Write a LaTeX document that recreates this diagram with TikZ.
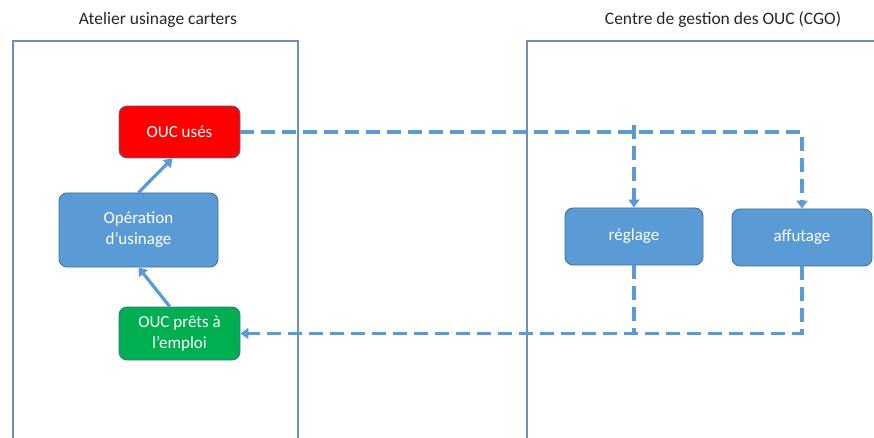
\documentclass[tikz,border=0pt]{standalone}
\usepackage{fontspec}
\setmainfont{Carlito}
\usetikzlibrary{arrows.meta}
\definecolor{flowblue}{HTML}{5B9BD5}
\definecolor{boxedge}{HTML}{41719C}
\definecolor{paneledge}{HTML}{6F8FB8}
\definecolor{usedred}{HTML}{FF0000}
\definecolor{readygreen}{HTML}{00B050}
\definecolor{titlegray}{HTML}{262626}
\begin{document}
\begin{tikzpicture}[x=1pt,y=-1pt,
  panel/.style={draw=paneledge,line width=1.1pt},
  paneltitle/.style={text=titlegray,font=\fontsize{17.5}{21}\selectfont},
  box/.style={draw=boxedge,line width=0.9pt,rounded corners=8pt,text=white,
    align=center,inner sep=0pt,font=\fontsize{17}{21}\selectfont},
  flow/.style={draw=flowblue,line width=3.2pt,
    -{Triangle[length=8pt,width=11pt]}},
  dashflow/.style={draw=flowblue,line width=3.2pt,dash pattern=on 14pt off 7pt},
  dashtip/.style={dashflow,-{Triangle[length=8pt,width=11pt]}}]
\useasboundingbox (0,0) rectangle (874,438);
\fill[white] (0,0) rectangle (874,438);

% the two workshop panels, running off the lower edge
\begin{scope}
  \clip (0,0) rectangle (874,438);
  \draw[panel] (13,41) rectangle (298,460);
  \draw[panel] (527,41) rectangle (890,460);
\end{scope}
\node[paneltitle] (t1) at (158,20) {Atelier usinage carters};
\node[paneltitle] (t2) at (723,20) {Centre de gestion des OUC (CGO)};

% process boxes
\node[box,fill=usedred,minimum width=121pt,minimum height=52pt] (u) at (179.5,132) {OUC usés};
\node[box,fill=flowblue,minimum width=159pt,minimum height=74pt] (op) at (138.5,230) {Opération\\d’usinage};
\node[box,fill=readygreen,minimum width=121pt,minimum height=53pt] (pret) at (179.5,333.5) {OUC prêts à\\l’emploi};
\node[box,fill=flowblue,minimum width=138pt,minimum height=57pt] (reg) at (634,236.5) {réglage};
\node[box,fill=flowblue,minimum width=140pt,minimum height=57pt] (aff) at (802,237.5) {affutage};

% workshop cycle
\draw[flow] (pret.110) -- (op.south);
\draw[flow] (op.north) -- (u.255);

% worn tools sent to the CGO, ready tools sent back
\draw[dashtip] (u.east) -| (aff.north);
\draw[dashtip] ([yshift=7pt]u.east -| reg.north) -- (reg.north);
\draw[dashtip] (aff.south) |- (pret.east);
\draw[dashflow] (reg.south) -- (reg.south |- pret.east);
\end{tikzpicture}
\end{document}
